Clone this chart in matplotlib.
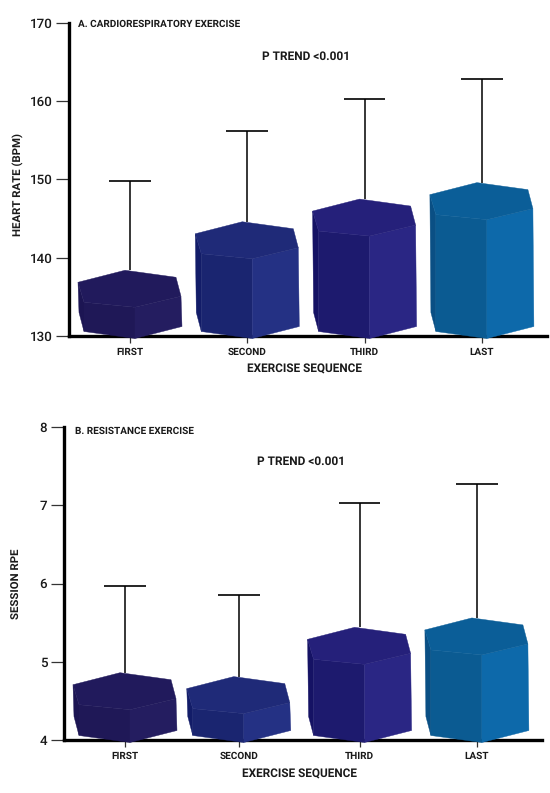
import matplotlib
matplotlib.use("Agg")
import matplotlib.pyplot as plt
from matplotlib.patches import Polygon

plt.rcParams['font.family'] = ['Roboto', 'DejaVu Sans']
plt.rcParams['text.hinting'] = 'no_hinting'

categories = ["FIRST", "SECOND", "THIRD", "LAST"]

hr_pos = [0, 1, 2, 3]
hr_means = [138.4, 144.6, 147.5, 149.6]
hr_tops = [149.8, 156.2, 160.3, 162.8]
hr_ticks = [130, 140, 150, 160, 170]

rpe_pos = [0, 0.97, 2, 3]
rpe_means = [4.86, 4.81, 5.44, 5.56]
rpe_tops = [5.97, 5.85, 7.03, 7.27]
rpe_ticks = [4, 5, 6, 7, 8]

# top, left face, right face, far left sliver
colors = [
    ("#211a5c", "#1f1857", "#241d60", "#1c1553"),
    ("#1f2a78", "#1a2570", "#243184", "#121c68"),
    ("#25207a", "#1d1a6e", "#2a2684", "#151264"),
    ("#0b5e98", "#0b5b92", "#0d69aa", "#0a4f84"),
]

# hexagon outline in pixels, relative to the tick x and the top vertex
top_x = [-52, -5, 46, 51, 5, -46]
top_y = [12, 0, 7, 26, 37, 32]
# lower corners in pixels, relative to the front bottom vertex
low_x = [-51, -46, 5, 52]
low_y = [-26, -7, 0, -12]

W, H = 550, 793
text_color = "#1a1a1a"


def make_axes(left, right, bottom, top):
    return fig.add_axes([left / W, 1 - bottom / H, (right - left) / W, (bottom - top) / H])


def label(x, y, s, size, **kw):
    fig.text(x / W, 1 - y / H, s, fontsize=size, fontweight="bold", va="center", color=text_color, **kw)


def prism(ax, x, value, color, base_px):
    # px to data units for this axes
    x0, x1 = ax.get_xlim()
    y0, y1 = ax.get_ylim()
    bb = ax.get_window_extent()
    ux = (x1 - x0) / bb.width
    uy = (y1 - y0) / bb.height

    hexa = [(x + dx * ux, value - dy * uy) for dx, dy in zip(top_x, top_y)]
    base = y0 - base_px * uy
    low = [(x + dx * ux, base - dy * uy) for dx, dy in zip(low_x, low_y)]

    c_top, c_left, c_right, c_side = color
    kw = dict(clip_on=False, lw=0.3, zorder=4)
    ax.add_patch(Polygon([hexa[0], hexa[5], low[1], low[0]], fc=c_side, ec=c_side, **kw))
    ax.add_patch(Polygon([hexa[5], hexa[4], low[2], low[1]], fc=c_left, ec=c_left, **kw))
    ax.add_patch(Polygon([hexa[4], hexa[3], low[3], low[2]], fc=c_right, ec=c_right, **kw))
    ax.add_patch(Polygon(hexa, fc=c_top, ec=c_top, **kw))


def panel(ax, pos, means, tops, ticks):
    ax.set_xlim(x_lim)
    ax.set_ylim(ticks[0], ticks[-1])
    ax.set_xticks(pos)
    ax.set_xticklabels(categories, fontsize=7.2, fontweight="bold", color=text_color)
    ax.set_yticks(ticks)
    ax.set_yticklabels([str(t) for t in ticks], fontsize=9.6, fontweight="medium", color=text_color)
    ax.tick_params(axis="y", length=9.5, width=0.9, pad=2.5, color="#333333")
    ax.tick_params(axis="x", length=5, width=0.9, pad=3.5, color="#333333")
    for s in ["top", "right"]:
        ax.spines[s].set_visible(False)
    for s in ["left", "bottom"]:
        ax.spines[s].set_linewidth(2.4)
        ax.spines[s].set_zorder(3)
    for i, (x, m, t) in enumerate(zip(pos, means, tops)):
        ax.plot([x, x], [m, t], color="black", lw=1.1, zorder=2, solid_capstyle="butt")
        ax.plot([x - cap, x + cap], [t, t], color="black", lw=1.2, zorder=2, solid_capstyle="butt")
        prism(ax, x, m, colors[i], 2.5)


x_lim = (-0.52, 3.555)
cap = 0.178

fig = plt.figure(figsize=(5.5, 7.93), dpi=100)

ax1 = make_axes(69, 547, 336, 23)
panel(ax1, hr_pos, hr_means, hr_tops, hr_ticks)
label(78, 24, "A. CARDIORESPIRATORY EXERCISE", 7.2)
label(262, 57, "P TREND <0.001", 8.6)
label(304, 369, "EXERCISE SEQUENCE", 8.5, ha="center")
label(18, 184, "HEART RATE (BPM)", 8.2, ha="center", rotation=90)

ax2 = make_axes(64, 542, 740, 427)
panel(ax2, rpe_pos, rpe_means, rpe_tops, rpe_ticks)
label(75, 431, "B. RESISTANCE EXERCISE", 7.2)
label(257, 462, "P TREND <0.001", 8.6)
label(299, 774, "EXERCISE SEQUENCE", 8.5, ha="center")
label(17, 584, "SESSION RPE", 8.2, ha="center", rotation=90)

fig.savefig("out.png", dpi=100)
